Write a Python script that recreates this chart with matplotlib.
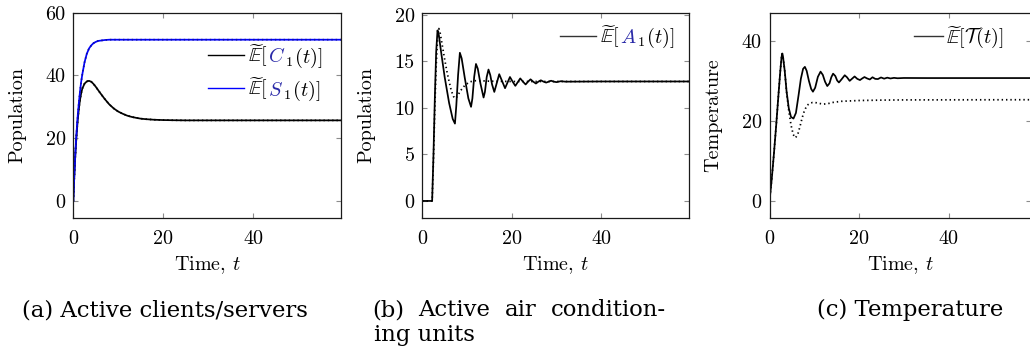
import matplotlib
matplotlib.use("Agg")
import matplotlib.pyplot as plt
from matplotlib.lines import Line2D

plt.rcParams["font.family"] = "serif"
plt.rcParams["font.serif"] = ["cmr10"]
plt.rcParams["mathtext.fontset"] = "cm"
plt.rcParams["axes.formatter.use_mathtext"] = True
plt.rcParams["axes.unicode_minus"] = False

# ---------------- data ----------------
# (a) active clients / servers
t_a = [0, 0.25, 0.5, 0.75, 1.0, 1.25, 1.5, 1.75, 2.0, 2.5, 3.0, 3.5, 4.0, 4.5,
       5.0, 5.5, 6.0, 7.0, 8.0, 9.0, 10.0, 11.0, 12.0, 13.0, 14.0, 15.0, 16.0,
       18.0, 20.0, 22.0, 25.0, 30.0, 40.0, 50.0, 60.0]
clients = [0, 8.8, 16.0, 21.5, 26.0, 29.5, 32.3, 34.3, 35.8, 37.4, 38.1, 38.3,
           38.0, 37.3, 36.4, 35.4, 34.4, 32.5, 30.8, 29.5, 28.5, 27.8, 27.2,
           26.8, 26.5, 26.25, 26.1, 25.9, 25.8, 25.75, 25.7, 25.7, 25.7, 25.7, 25.7]
servers = [0, 9.0, 16.5, 22.5, 27.5, 31.5, 35.0, 38.0, 40.3, 44.2, 46.9, 48.6,
           49.6, 50.3, 50.7, 51.0, 51.1, 51.3, 51.4, 51.4, 51.4, 51.4, 51.4,
           51.4, 51.4, 51.4, 51.4, 51.4, 51.4, 51.4, 51.4, 51.4, 51.4, 51.4, 51.4]

# (b) active air conditioning units
t_b = [0, 2.2, 2.5, 2.8, 3.1, 3.4, 3.7, 4.2, 5.0, 6.0, 6.8, 7.3, 7.6, 8.0, 8.4,
       8.8, 9.5, 10.3, 10.9, 11.2, 11.6, 12.0, 12.4, 13.0, 13.7, 14.0, 14.4,
       14.8, 15.2, 15.6, 16.1, 16.65, 17.2, 17.85, 18.5, 19.05, 19.6, 20.2,
       20.8, 21.35, 21.9, 22.5, 23.1, 23.65, 24.2, 24.8, 25.4, 25.95, 26.5,
       27.1, 27.7, 28.25, 28.8, 29.4, 30.0, 31.0, 32.0, 40.0, 60.0]
units = [0, 0, 5.0, 11.0, 16.0, 18.3, 17.8, 16.0, 13.3, 10.5, 8.8, 8.3, 10.2,
         13.5, 15.9, 15.3, 13.2, 11.0, 10.1, 11.0, 13.3, 14.7, 14.2, 12.6, 11.1,
         11.7, 13.3, 14.1, 13.5, 12.5, 11.7, 12.65, 13.6, 12.85, 12.1, 12.7,
         13.3, 12.8, 12.35, 12.75, 13.15, 12.8, 12.5, 12.8, 13.05, 12.8, 12.6,
         12.8, 12.95, 12.8, 12.7, 12.8, 12.9, 12.8, 12.75, 12.85, 12.8, 12.82, 12.82]
t_b_approx = [0, 2.2, 2.5, 2.8, 3.1, 3.4, 3.7, 4.0, 4.5, 5.0, 5.5, 6.0, 6.5,
              7.0, 7.3, 7.8, 8.5, 9.5, 10.5, 11.5, 13.0, 15.0, 20.0, 60.0]
units_approx = [0, 0, 4.5, 10.0, 14.5, 17.3, 18.5, 18.0, 16.6, 15.2, 13.9,
                12.8, 11.8, 11.2, 11.0, 11.2, 11.8, 12.4, 12.75, 12.9, 12.9,
                12.85, 12.82, 12.82]

# (c) temperature
t_c = [0, 0.5, 1.0, 1.5, 2.0, 2.4, 2.7, 2.85, 3.0, 3.4, 3.8, 4.3, 4.8, 5.35,
       5.9, 6.5, 7.0, 7.5, 7.9, 8.3, 8.8, 9.3, 9.7, 10.2, 10.8, 11.4, 11.9,
       12.4, 12.9, 13.4, 13.8, 14.2, 14.7, 15.1, 15.5, 16.1, 16.8, 17.3, 17.9,
       18.4, 19.0, 19.6, 20.2, 20.7, 21.2, 21.8, 22.4, 23.0, 23.6, 24.2, 24.9,
       25.6, 26.3, 27.0, 27.8, 28.6, 30.0, 35.0, 60.0]
temp = [0, 5.5, 12.0, 19.0, 26.5, 32.3, 36.0, 36.8, 36.2, 32.5, 27.5, 23.2,
        21.0, 20.6, 22.0, 26.5, 30.5, 33.0, 33.5, 32.5, 30.0, 28.0, 27.3, 28.3,
        31.0, 32.3, 31.5, 29.8, 28.7, 29.4, 30.9, 31.8, 31.2, 30.1, 29.6, 30.4,
        31.4, 30.9, 30.0, 30.5, 31.1, 30.5, 30.2, 30.6, 30.95, 30.6, 30.35,
        30.9, 30.5, 30.45, 30.85, 30.55, 30.8, 30.6, 30.75, 30.65, 30.72, 30.7, 30.7]
t_c_approx = [0, 0.5, 1.0, 1.5, 2.0, 2.4, 2.7, 2.85, 3.0, 3.4, 3.8, 4.3, 4.8,
              5.3, 5.8, 6.3, 6.8, 7.3, 7.8, 8.4, 9.0, 9.6, 10.2, 11.0, 12.0,
              13.0, 14.0, 16.0, 18.0, 20.0, 25.0, 30.0, 60.0]
temp_approx = [0, 5.5, 12.0, 19.0, 26.5, 32.3, 36.0, 36.8, 36.2, 32.5, 27.3,
               22.6, 19.0, 16.6, 15.8, 16.6, 18.6, 20.8, 22.6, 23.9, 24.4, 24.6,
               24.6, 24.4, 24.2, 24.3, 24.6, 24.9, 25.0, 25.1, 25.2, 25.25, 25.3]

yticks_a = [0, 20, 40, 60]
yticks_b = [0, 5, 10, 15, 20]
yticks_c = [0, 20, 40]
xticks = [0, 20, 40]

captions = ["(a) Active clients/servers",
            "(b) Active air condition-",
            "ing units",
            "(c) Temperature"]

# ---------------- layout ----------------
W, H = 1030, 356
FS = 14.5
CAP_FS = 16.4
fig = plt.figure(figsize=(W / 100, H / 100), dpi=100)
renderer = fig.canvas.get_renderer()

TOP, BOTTOM = 12.7, 218.0
LW = 1.25
DOT = (0, (0.8, 1.7))
NAVY = "#2a2aa8"


def px(x, y):
    return x / W, 1 - y / H


def make_axes(left, right, xlim, ylim, yticks, ylabel, ylabel_x):
    ax = fig.add_axes([left / W, 1 - BOTTOM / H, (right - left) / W,
                       (BOTTOM - TOP) / H])
    ax.set_xlim(*xlim)
    ax.set_ylim(*ylim)
    ax.set_xticks(xticks)
    ax.set_yticks(yticks)
    ax.set_xticklabels([str(v) for v in xticks])
    ax.set_yticklabels([str(v) for v in yticks])
    ax.tick_params(direction="in", length=3.3, width=0.8, color="#8c8c8c",
                   top=True, right=True, labelsize=FS)
    ax.tick_params(axis="x", pad=8.5)
    ax.tick_params(axis="y", pad=5.6)
    for s in ax.spines.values():
        s.set_linewidth(0.9)
        s.set_color("#1a1a1a")
    fig.text(*px(ylabel_x, (TOP + BOTTOM) / 2), ylabel, rotation=90,
             ha="center", va="center", fontsize=FS)
    fig.text(*px((left + right) / 2, 265), "Time, $t$", ha="center",
             va="center", fontsize=FS)
    return ax


def legend_row(x0, y_line, parts, line_color, line_len=36, gap=4):
    fig.add_artist(Line2D([x0 / W, (x0 + line_len) / W],
                          [1 - y_line / H, 1 - y_line / H],
                          color=line_color, lw=1.0))
    x = x0 + line_len + gap
    for s, c in parts:
        t = fig.text(*px(x, y_line + 7.5), s, color=c, fontsize=FS,
                     ha="left", va="baseline")
        x += t.get_window_extent(renderer).width


def caption(x0, y, text, width=None):
    kw = dict(family="DejaVu Serif", fontsize=CAP_FS, va="baseline", ha="left")
    if width is None:
        fig.text(*px(x0, y), text, **kw)
        return
    # justified line: spread the words over the given width
    words = text.split(" ")
    arts = [fig.text(*px(x0, y), w, **kw) for w in words]
    widths = [a.get_window_extent(renderer).width for a in arts]
    gap = (width - sum(widths)) / (len(words) - 1)
    x = x0
    for a, w in zip(arts, widths):
        a.set_position(px(x, y))
        x += w + gap


E = r"$\widetilde{\mathbb{E}}[$"

# (a)
ax_a = make_axes(73.3, 340.7, (0, 59.5), (-5.4, 60), yticks_a, "Population", 17.5)
ax_a.plot(t_a, clients, color="black", lw=LW)
ax_a.plot(t_a, clients, color="black", lw=LW, ls=DOT)
ax_a.plot(t_a, servers, color="blue", lw=LW)
ax_a.plot(t_a, servers, color="#1010a0", lw=LW, ls=DOT)
legend_row(208, 55, [(E, "black"), (r"$C$", NAVY), (r"${}_1(t)]$", "black")], "black")
legend_row(208, 88, [(E, "black"), (r"$S$", NAVY), (r"${}_1(t)]$", "black")], "blue")

# (b)
ax_b = make_axes(422.3, 689.3, (0, 59.7), (-1.83, 20.2), yticks_b, "Population", 366)
ax_b.plot(t_b, units, color="black", lw=LW)
ax_b.plot(t_b_approx, units_approx, color="black", lw=LW, ls=DOT)
legend_row(560, 35.7, [(E, "black"), (r"$A$", NAVY), (r"${}_1(t)]$", "black")], "#333333")

# (c)
ax_c = make_axes(769.5, 1031.5, (0, 58.5), (-4.2, 47), yticks_c, "Temperature", 713.5)
ax_c.plot(t_c, temp, color="black", lw=LW)
ax_c.plot(t_c_approx, temp_approx, color="black", lw=LW, ls=DOT)
legend_row(914, 35.7, [(r"$\widetilde{\mathbb{E}}[\mathcal{T}(t)]$", "black")], "#333333",
           line_len=29, gap=3)

# sub-captions
caption(22, 316, captions[0])
caption(372, 316, captions[1], width=294)
caption(374, 341.5, captions[2])
caption(817, 316, captions[3])

fig.savefig("out.png", dpi=100)
